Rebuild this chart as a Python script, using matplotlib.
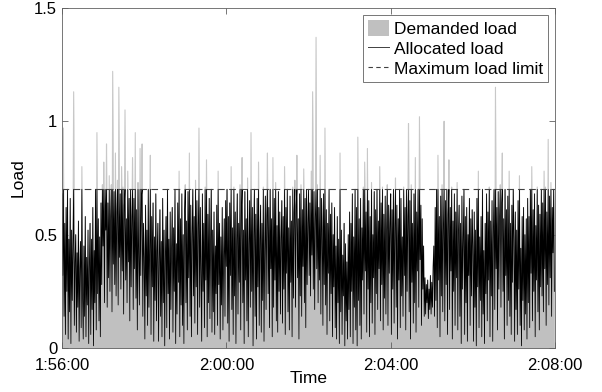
import numpy as np
import matplotlib
matplotlib.use("Agg")
import matplotlib.pyplot as plt
from matplotlib.patches import Patch
from matplotlib.lines import Line2D

# Demanded load, one sample per second from 1:56:00 to 2:08:00 (20 s per row)
demanded = [
    0.68, 0.32, 0.97, 0.14, 0.55, 0.06, 0.62, 0.25, 0.70, 0.04, 0.48, 0.16, 0.66, 0.02, 0.52, 0.21, 0.44, 1.13, 0.10, 0.38,
    0.50, 0.07, 0.42, 0.18, 0.56, 0.03, 0.35, 0.47, 0.09, 0.80, 0.23, 0.04, 0.45, 0.14, 0.58, 0.05, 0.40, 0.19, 0.52, 0.02,
    0.36, 0.55, 0.06, 0.48, 0.17, 0.62, 0.01, 0.43, 0.20, 0.70, 0.08, 0.95, 0.24, 0.57, 0.12, 0.49, 0.05, 0.64, 0.28, 0.72,
    0.45, 0.82, 0.20, 0.70, 0.52, 0.90, 0.18, 0.64, 0.31, 0.76, 0.25, 0.58, 0.72, 0.16, 1.22, 0.37, 0.69, 0.28, 0.86, 0.23,
    0.60, 0.74, 0.19, 1.15, 0.40, 0.68, 0.26, 0.80, 0.34, 0.71, 0.15, 0.63, 1.05, 0.30, 0.57, 0.20, 0.78, 0.38, 0.66, 0.12,
    0.70, 0.27, 0.58, 0.84, 0.17, 0.66, 0.35, 0.95, 0.22, 0.61, 0.08, 0.73, 0.40, 0.19, 0.88, 0.32, 0.67, 0.90, 0.14, 0.55,
    0.40, 0.04, 0.63, 0.23, 0.52, 0.10, 0.70, 0.18, 0.46, 0.85, 0.06, 0.58, 0.27, 0.64, 0.03, 0.49, 0.21, 0.68, 0.12, 0.43,
    0.55, 0.03, 0.38, 0.61, 0.14, 0.47, 0.05, 0.66, 0.20, 0.52, 0.01, 0.41, 0.58, 0.09, 0.70, 0.24, 0.48, 0.04, 0.60, 0.17,
    0.44, 0.62, 0.07, 0.53, 0.25, 0.70, 0.02, 0.46, 0.15, 0.64, 0.29, 0.78, 0.05, 0.57, 0.19, 0.68, 0.10, 0.50, 0.02, 0.61,
    0.72, 0.20, 0.56, 0.08, 0.69, 0.31, 0.86, 0.14, 0.63, 0.05, 0.50, 0.70, 0.23, 0.58, 0.11, 0.74, 0.27, 0.65, 0.06, 0.54,
    0.97, 0.18, 0.62, 0.34, 0.03, 0.68, 0.25, 0.55, 0.09, 0.71, 0.30, 0.83, 0.05, 0.59, 0.20, 0.66, 0.13, 0.48, 0.70, 0.07,
    0.52, 0.16, 0.60, 0.06, 0.45, 0.24, 0.63, 0.10, 0.78, 0.28, 0.55, 0.04, 0.49, 0.19, 0.62, 0.08, 0.41, 0.57, 0.14, 0.65,
    0.36, 0.70, 0.11, 0.58, 0.03, 0.64, 0.32, 0.80, 0.17, 0.53, 0.06, 0.71, 0.23, 0.60, 0.02, 0.47, 0.68, 0.15, 0.55, 0.29,
    0.72, 0.08, 0.61, 0.84, 0.20, 0.52, 0.02, 0.69, 0.30, 0.57, 0.12, 0.75, 0.05, 0.46, 0.65, 0.18, 0.95, 0.25, 0.62, 0.01,
    0.50, 0.70, 0.14, 0.59, 0.04, 0.66, 0.27, 0.82, 0.10, 0.48, 0.63, 0.07, 0.55, 0.21, 0.71, 0.03, 0.44, 0.67, 0.17, 0.58,
    0.86, 0.24, 0.62, 0.09, 0.70, 0.35, 0.57, 0.05, 0.84, 0.18, 0.66, 0.30, 0.73, 0.12, 0.54, 0.07, 0.69, 0.25, 0.60, 0.15,
    0.48, 0.65, 0.11, 0.58, 0.26, 0.80, 0.06, 0.62, 0.33, 0.70, 0.16, 0.53, 0.08, 0.67, 0.29, 0.56, 0.05, 0.71, 0.22, 0.60,
    0.74, 0.18, 0.63, 0.85, 0.31, 0.57, 0.04, 0.68, 0.23, 0.72, 0.14, 0.61, 0.36, 0.79, 0.20, 0.66, 0.09, 0.70, 0.28, 0.55,
    0.70, 0.32, 0.64, 0.23, 0.78, 0.41, 1.13, 0.26, 0.69, 0.17, 0.58, 1.37, 0.35, 0.72, 0.20, 0.62, 0.30, 0.85, 0.15, 0.66,
    0.52, 0.10, 0.68, 0.28, 0.97, 0.19, 0.61, 0.06, 0.55, 0.33, 0.70, 0.12, 0.59, 0.24, 0.64, 0.05, 0.50, 0.27, 0.62, 0.09,
    0.45, 0.04, 0.58, 0.20, 0.48, 0.02, 0.86, 0.16, 0.52, 0.06, 0.41, 0.23, 0.55, 0.01, 0.46, 0.12, 0.38, 0.04, 0.50, 0.17,
    0.60, 0.05, 0.55, 0.25, 0.68, 0.02, 0.49, 0.18, 0.70, 0.08, 0.62, 0.01, 0.93, 0.21, 0.57, 0.10, 0.66, 0.04, 0.53, 0.30,
    0.71, 0.15, 0.82, 0.34, 0.60, 0.07, 0.88, 0.26, 0.65, 0.05, 0.58, 0.20, 0.73, 0.11, 0.50, 0.31, 0.69, 0.06, 0.61, 0.24,
    0.70, 0.17, 0.56, 0.35, 0.80, 0.12, 0.64, 0.28, 0.71, 0.08, 0.59, 0.22, 0.67, 0.15, 0.52, 0.72, 0.10, 0.63, 0.33, 0.55,
    0.68, 0.06, 0.61, 0.26, 0.70, 0.11, 0.54, 0.75, 0.18, 0.63, 0.04, 0.57, 0.30, 0.70, 0.09, 0.66, 0.23, 0.49, 0.14, 0.71,
    0.32, 0.62, 0.08, 0.70, 0.25, 0.58, 0.99, 0.16, 0.65, 0.04, 0.72, 0.29, 0.55, 0.11, 0.68, 0.20, 0.84, 0.07, 0.60, 0.34,
    0.70, 0.18, 1.02, 0.39, 0.63, 0.10, 0.57, 0.26, 0.45, 0.14, 0.31, 0.15, 0.28, 0.20, 0.30, 0.13, 0.26, 0.17, 0.32, 0.15,
    0.29, 0.18, 0.36, 0.45, 0.14, 0.62, 0.21, 0.70, 0.09, 0.85, 0.30, 0.58, 0.05, 0.67, 0.23, 0.72, 0.16, 0.54, 1.00, 0.12,
    0.65, 0.28, 0.70, 0.06, 0.59, 0.83, 0.17, 0.62, 0.34, 0.71, 0.04, 0.56, 0.25, 0.68, 0.10, 0.60, 0.31, 0.73, 0.08, 0.52,
    0.63, 0.14, 0.55, 0.02, 0.67, 0.26, 0.48, 0.70, 0.06, 0.58, 0.20, 0.62, 0.03, 0.50, 0.32, 0.66, 0.10, 0.57, 0.23, 0.61,
    0.45, 0.03, 0.60, 0.18, 0.52, 0.01, 0.66, 0.27, 0.78, 0.09, 0.49, 0.21, 0.58, 0.05, 0.70, 0.15, 0.43, 0.02, 0.55, 0.24,
    0.68, 0.12, 0.60, 0.30, 0.71, 0.05, 0.56, 0.23, 0.65, 0.03, 0.52, 0.70, 0.17, 1.15, 0.35, 0.62, 0.08, 0.69, 0.26, 0.58,
    0.72, 0.18, 0.64, 0.86, 0.25, 0.57, 0.04, 0.70, 0.32, 0.61, 0.10, 0.67, 0.21, 0.78, 0.14, 0.55, 0.06, 0.63, 0.29, 0.70,
    0.48, 0.03, 0.60, 0.17, 0.52, 0.06, 0.65, 0.26, 0.76, 0.10, 0.44, 0.01, 0.58, 0.21, 0.62, 0.08, 0.50, 0.15, 0.57, 0.04,
    0.66, 0.20, 0.58, 0.09, 0.70, 0.33, 0.80, 0.12, 0.61, 0.25, 0.68, 0.05, 0.54, 0.30, 0.71, 0.16, 0.63, 0.08, 0.59, 0.27,
    0.70, 0.23, 0.64, 0.16, 0.78, 0.35, 0.71, 0.10, 0.60, 0.28, 0.92, 0.19, 0.67, 0.31, 0.73, 0.14, 0.62, 0.42, 0.70, 0.25,
]
max_load = 0.7
tick_labels = ["1:56:00", "2:00:00", "2:04:00", "2:08:00"]

demanded = np.array(demanded)
allocated = np.minimum(demanded, max_load)
t = np.arange(len(demanded))  # seconds since 1:56:00

plt.rcParams["font.family"] = ["Liberation Sans", "DejaVu Sans"]

fig = plt.figure(figsize=(6.02, 3.92), dpi=100)
ax = fig.add_axes([0.103, 0.112, 0.819, 0.868])

ax.fill_between(t, 0, demanded, color="#c0c0c0", lw=0)
ax.plot(t, demanded, color="#c8c8c8", lw=0.8)
ax.plot(t, allocated, color="black", lw=0.6)
ax.axhline(max_load, color="#404040", lw=0.8, ls=(0, (6, 4)))

ax.set_xlim(0, 720)
ax.set_ylim(0, 1.5)
ax.set_xticks([0, 240, 480, 720])
ax.set_xticklabels(tick_labels)
ax.set_yticks([0, 0.5, 1, 1.5])
ax.set_yticklabels(["0", "0.5", "1", "1.5"])
ax.tick_params(direction="in", top=True, right=True, labelsize=12, length=4,
               width=0.6, color="#606060")
ax.tick_params(axis="x", pad=7)
for s in ax.spines.values():
    s.set_linewidth(0.6)
    s.set_color("#606060")
ax.set_xlabel("Time", fontsize=12.5, labelpad=-1)
ax.set_ylabel("Load", fontsize=12.5, labelpad=6)

handles = [
    Patch(facecolor="#c0c0c0", edgecolor="none"),
    Line2D([], [], color="#404040", lw=0.7),
    Line2D([], [], color="#404040", lw=0.8, ls=(0, (4, 3))),
]
leg = ax.legend(handles, ["Demanded load", "Allocated load", "Maximum load limit"],
                loc="upper right", fontsize=12.5, fancybox=False, framealpha=1,
                handlelength=1.2, handleheight=1.0, handletextpad=0.3,
                labelspacing=0.2, borderpad=0.3, borderaxespad=0.4)
leg.get_frame().set_edgecolor("#606060")
leg.get_frame().set_linewidth(0.6)

fig.savefig("out.png", dpi=100)
